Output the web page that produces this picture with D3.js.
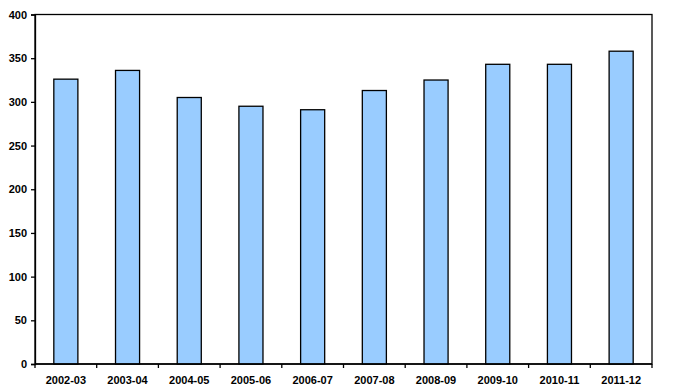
<!DOCTYPE html>
<html><head><meta charset="utf-8">
<script src="https://cdn.jsdelivr.net/npm/d3@7"></script>
<style>body{margin:0;background:#fff}svg{display:block}</style>
</head><body>
<script>
const categories = ["2002-03","2003-04","2004-05","2005-06","2006-07","2007-08","2008-09","2009-10","2010-11","2011-12"];
const values = [326, 336, 305, 295, 291, 313, 325, 343, 343, 358];
const yTicks = [0,50,100,150,200,250,300,350,400];

const W = 674, H = 391;
const m = {left:35, top:14.5, right:22, bottom:27};
const svg = d3.select("body").append("svg").attr("width",W).attr("height",H);
const x = d3.scaleBand().domain(categories).range([m.left, W-m.right]).paddingInner(0.61).paddingOuter(0.305);
const xb = d3.scaleBand().domain(categories).range([m.left, W-m.right]);
const y = d3.scaleLinear().domain([0,400]).range([H-m.bottom, m.top]);

// frame
svg.append("rect").attr("x",m.left).attr("y",m.top).attr("width",W-m.right-m.left).attr("height",H-m.bottom-m.top)
  .attr("fill","none").attr("stroke","#000").attr("stroke-width",1.3);

svg.selectAll("rect.bar").data(values).enter().append("rect").attr("class","bar")
  .attr("x",(d,i)=>x(categories[i])).attr("width",x.bandwidth())
  .attr("y",d=>y(d)).attr("height",d=>y(0)-y(d))
  .attr("fill","#99ccff").attr("stroke","#000").attr("stroke-width",1.3);

const font = "'Liberation Sans', Arial, sans-serif";
const ya = svg.append("g").attr("transform",`translate(${m.left},0)`)
  .call(d3.axisLeft(y).tickValues(yTicks).tickSize(4).tickPadding(4));
ya.select(".domain").attr("stroke-width",1.3);
ya.selectAll("line").attr("stroke-width",1.3);
ya.selectAll("text").attr("font-family",font).attr("font-weight","bold").attr("font-size","11px").attr("fill","#000");

const xa = svg.append("g").attr("transform",`translate(0,${H-m.bottom})`);
xa.append("line").attr("x1",m.left).attr("x2",W-m.right).attr("stroke","#000").attr("stroke-width",1.3);
const bounds = categories.map(c=>xb(c)).concat([W-m.right]);
xa.selectAll("line.t").data(bounds).enter().append("line").attr("class","t")
  .attr("x1",d=>d).attr("x2",d=>d).attr("y1",0).attr("y2",4).attr("stroke","#000").attr("stroke-width",1.3);
xa.selectAll("text").data(categories).enter().append("text")
  .attr("x",d=>xb(d)+xb.bandwidth()/2).attr("y",20).attr("text-anchor","middle")
  .attr("font-family",font).attr("font-weight","bold").attr("font-size","11px").attr("fill","#000").text(d=>d);
</script>
</body></html>
